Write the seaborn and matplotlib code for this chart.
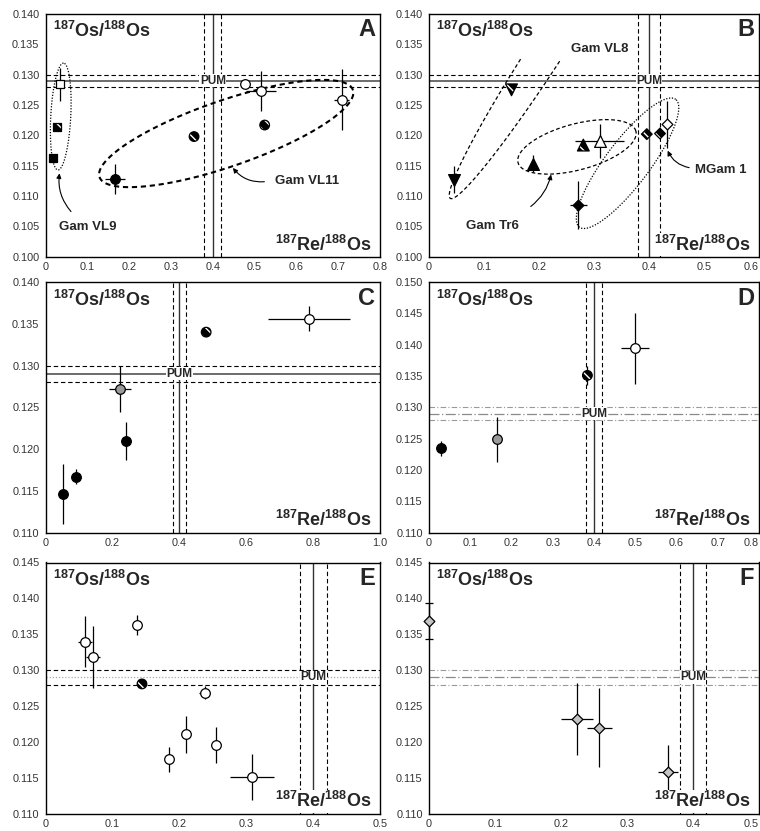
import numpy as np
import pandas as pd
import matplotlib
matplotlib.use("Agg")
import matplotlib.pyplot as plt
from matplotlib.ticker import MultipleLocator, FuncFormatter
import seaborn as sns

# ---- data ----
# A
a_x = [0.034, 0.028, 0.017, 0.166, 0.355, 0.477, 0.515, 0.524, 0.709]
a_y = [0.1284, 0.1214, 0.1163, 0.1128, 0.1198, 0.1285, 0.1273, 0.1217, 0.1259]
a_xerr = [0, 0, 0, 0.023, 0, 0, 0.035, 0, 0.018]
a_yerr = [0.0027, 0, 0, 0.0024, 0, 0, 0.0033, 0, 0.0051]
a_fill = ["open", "hatch", "black", "black", "hatch", "open", "open", "hatch", "open"]
a_marker = ["s", "s", "s", "o", "o", "o", "o", "o", "o"]
# B
b_x = [0.0455, 0.150, 0.1885, 0.2806, 0.310, 0.2715, 0.396, 0.420, 0.433]
b_y = [0.1127, 0.1275, 0.1153, 0.1184, 0.1190, 0.1085, 0.1202, 0.1203, 0.1218]
b_xerr = [0, 0, 0, 0, 0.045, 0.015, 0, 0, 0]
b_yerr = [0.0022, 0, 0.0014, 0, 0.0028, 0.004, 0, 0, 0.0039]
b_fill = ["black", "hatch", "black", "hatch", "open", "black", "hatch", "hatch", "open"]
b_marker = ["v", "v", "^", "^", "^", "D", "D", "D", "D"]
# C
c_x = [0.051, 0.091, 0.240, 0.222, 0.480, 0.788]
c_y = [0.1146, 0.1167, 0.1210, 0.1272, 0.1340, 0.1356]
c_xerr = [0.012, 0, 0.015, 0.034, 0, 0.122]
c_yerr = [0.0036, 0.0009, 0.0023, 0.0028, 0, 0.0015]
c_fill = ["black", "black", "black", "gray", "hatch", "open"]
# D
d_x = [0.028, 0.164, 0.384, 0.499]
d_y = [0.1235, 0.1249, 0.1351, 0.1394]
d_xerr = [0, 0, 0.004, 0.0335]
d_yerr = [0.0012, 0.0036, 0.0015, 0.0056]
d_fill = ["black", "gray", "hatch", "open"]
# E
e_x = [0.059, 0.071, 0.136, 0.144, 0.238, 0.185, 0.210, 0.254, 0.308]
e_y = [0.1340, 0.1319, 0.1363, 0.1281, 0.1269, 0.1176, 0.1211, 0.1196, 0.1152]
e_xerr = [0.010, 0.0105, 0, 0, 0.008, 0, 0, 0, 0.033]
e_yerr = [0.0035, 0.0043, 0.0014, 0, 0.0009, 0.0017, 0.0026, 0.0025, 0.0032]
e_fill = ["open", "open", "open", "hatch", "open", "open", "open", "open", "open"]
# F
f_x = [0.0, 0.2247, 0.258, 0.3626]
f_y = [0.1369, 0.1232, 0.1220, 0.1159]
f_xerr = [0, 0.024, 0.019, 0.015]
f_yerr = [0.0025, 0.005, 0.0055, 0.0037]
f_fill = ["lgray"] * 4

# PUM reference values
pum_os = [0.128, 0.129, 0.130]
pum_re = [0.38, 0.40, 0.42]

sns.set_style("white")
plt.rcParams["font.family"] = ["Liberation Sans", "DejaVu Sans"]
plt.rcParams["mathtext.default"] = "regular"
plt.rcParams["hatch.linewidth"] = 1.0

fig = plt.figure(figsize=(7.6, 8.31), dpi=100)
W, H = 760, 831


def rect(l, r, t, b):
    return [l / W, 1 - b / H, (r - l) / W, (b - t) / H]


axA = fig.add_axes(rect(45.7, 380, 14, 256.7))
axB = fig.add_axes(rect(429, 759, 14, 256.7))
axC = fig.add_axes(rect(45.7, 380, 282, 532.7))
axD = fig.add_axes(rect(429, 759, 282, 532.7))
axE = fig.add_axes(rect(45.7, 380, 562.5, 814))
axF = fig.add_axes(rect(429, 759, 562.5, 814))


def setup(ax, xmax, xstep, ymin, ymax, letter, right_col=False):
    ax.set_xlim(0, xmax)
    ax.set_ylim(ymin, ymax)
    xt = np.round(np.arange(0, xmax + xstep / 2, xstep), 3)
    ax.set_xticks(xt)
    labs = ax.set_xticklabels(["0" if v == 0 else f"{v:.1f}" for v in xt])
    if right_col:
        # last x label sits at the page edge, keep it inside
        labs[-1].set_horizontalalignment("right")
    ax.yaxis.set_major_locator(MultipleLocator(0.005))
    ax.yaxis.set_major_formatter(FuncFormatter(lambda v, p: f"{v:.3f}"))
    ax.tick_params(length=0, labelsize=7.8, labelcolor="#333333")
    ax.tick_params(axis="y", pad=4.5)
    ax.tick_params(axis="x", pad=3.5)
    ax.set_xlabel("")
    ax.set_ylabel("")
    for s in ax.spines.values():
        s.set_color("black")
        s.set_linewidth(1.0)
    ax.text(0.022, 0.93, r"$^{187}$Os/$^{188}$Os", transform=ax.transAxes,
            fontsize=13, fontweight="bold", ha="left", va="center", zorder=8)
    ax.text(0.975, 0.05, r"$^{187}$Re/$^{188}$Os", transform=ax.transAxes,
            fontsize=13, fontweight="bold", ha="right", va="center", zorder=8,
            bbox=dict(facecolor="white", edgecolor="none", pad=1.0))
    ax.text(0.985, 0.935, letter, transform=ax.transAxes, fontsize=17,
            fontweight="bold", ha="right", va="center", zorder=8)


def pum(ax, hstyle):
    dash = (4, 2.5)
    if hstyle == "solid":
        ax.axhline(pum_os[1], color="#444444", lw=1.1, zorder=1)
        for v in (pum_os[0], pum_os[2]):
            ax.axhline(v, color="black", lw=0.8, dashes=dash, zorder=1)
    elif hstyle == "gray":
        ax.axhline(pum_os[1], color="#8a8a8a", lw=0.9, dashes=(8, 2, 1, 2), zorder=1)
        for v in (pum_os[0], pum_os[2]):
            ax.axhline(v, color="#9a9a9a", lw=0.8, dashes=(5, 2, 1, 2), zorder=1)
    else:
        ax.axhline(pum_os[1], color="#aaaaaa", lw=0.9, dashes=(1, 1.5), zorder=1)
        for v in (pum_os[0], pum_os[2]):
            ax.axhline(v, color="black", lw=0.8, dashes=dash, zorder=1)
    ax.axvline(pum_re[1], color="#333333", lw=1.0, zorder=1)
    for v in (pum_re[0], pum_re[2]):
        ax.axvline(v, color="black", lw=0.8, dashes=dash, zorder=1)
    ax.text(pum_re[1], pum_os[1], "PUM", fontsize=8.5, fontweight="bold",
            ha="center", va="center", zorder=7,
            bbox=dict(facecolor="white", edgecolor="none", pad=0.3))


SIZES = {"o": 48, "s": 32, "v": 72, "^": 72, "D": 30}
FACE = {"open": "white", "black": "black", "gray": "#9a9a9a", "lgray": "#c4c4c4"}


def points(ax, xs, ys, xerr, yerr, fills, markers, caps_first=False):
    df = pd.DataFrame({"x": xs, "y": ys, "xerr": xerr, "yerr": yerr,
                       "fill": fills, "marker": markers})
    for i, r in df.iterrows():
        cs = 3 if (caps_first and i == 0) else 0
        ax.errorbar(r.x, r.y, xerr=r.xerr if r.xerr else None,
                    yerr=r.yerr if r.yerr else None, fmt="none",
                    ecolor="black", elinewidth=0.9, capsize=cs, capthick=0.9,
                    zorder=3, clip_on=False)
    for (fill, m), sub in df.groupby(["fill", "marker"]):
        s = SIZES[m]
        if fill == "hatch":
            sns.scatterplot(data=sub, x="x", y="y", marker=m, s=s, color="black",
                            edgecolor="white", linewidth=0, hatch="\\\\\\",
                            ax=ax, zorder=4, legend=False, clip_on=False)
            ax.scatter(sub.x, sub.y, marker=m, s=s, facecolors="none",
                       edgecolors="black", linewidths=0.9, zorder=5, clip_on=False)
        else:
            sns.scatterplot(data=sub, x="x", y="y", marker=m, s=s,
                            color=FACE[fill], edgecolor="black", linewidth=0.9,
                            ax=ax, zorder=4, legend=False, clip_on=False)
    ax.set_xlabel("")
    ax.set_ylabel("")


def loop(ax, cx, cy, a, b, ang, ymax=None, **kw):
    # outline drawn in pixel space so the shape is a true ellipse on screen
    t = np.linspace(0, 2 * np.pi, 400)
    c = ax.transData.transform((cx, cy))
    th = np.radians(ang)
    px = c[0] + a * np.cos(t) * np.cos(th) - b * np.sin(t) * np.sin(th)
    py = c[1] + a * np.cos(t) * np.sin(th) + b * np.sin(t) * np.cos(th)
    pts = ax.transData.inverted().transform(np.column_stack([px, py]))
    if ymax is not None:
        pts = pts[pts[:, 1] <= ymax]
    ax.plot(pts[:, 0], pts[:, 1], color="black", zorder=2, **kw)


def label(ax, text, txy, start, tip, rad):
    ax.text(txy[0], txy[1], text, fontsize=9.5, fontweight="bold",
            ha="left", va="center", zorder=7)
    if start is not None:
        ax.annotate("", xy=tip, xytext=start, zorder=7,
                    arrowprops=dict(arrowstyle="-|>", color="black", lw=0.8,
                                    mutation_scale=7,
                                    connectionstyle=f"arc3,rad={rad}"))


# ---- A ----
setup(axA, 0.8, 0.1, 0.100, 0.140, "A")
pum(axA, "solid")
points(axA, a_x, a_y, a_xerr, a_yerr, a_fill, a_marker)
loop(axA, 0.036, 0.1231, 53.5, 10, 87, lw=0.9, dashes=(1, 1.3))
loop(axA, 0.432, 0.1203, 134, 33, 19, lw=1.5, dashes=(2.5, 1.8))
label(axA, "Gam VL9", (0.033, 0.1049), (0.065, 0.1071), (0.034, 0.1142), -0.25)
label(axA, "Gam VL11", (0.549, 0.1124), (0.530, 0.1124), (0.444, 0.1150), -0.3)

# ---- B ----
setup(axB, 0.6, 0.1, 0.100, 0.140, "B", right_col=True)
pum(axB, "solid")
points(axB, b_x, b_y, b_xerr, b_yerr, b_fill, b_marker)
loop(axB, 0.212, 0.1338, 175, 17, 57, ymax=0.1327, lw=0.9, dashes=(3, 2))
loop(axB, 0.269, 0.1181, 61, 23, 15, lw=0.9, dashes=(3, 2))
loop(axB, 0.361, 0.1154, 80, 22, 53, lw=0.9, dashes=(1, 1.3))
label(axB, "Gam VL8", (0.259, 0.1343), None, None, 0)
label(axB, "Gam Tr6", (0.067, 0.1051), (0.181, 0.1080), (0.223, 0.1140), 0.2)
label(axB, "MGam 1", (0.484, 0.1143), (0.478, 0.1146), (0.432, 0.1179), -0.3)

# ---- C ----
setup(axC, 1.0, 0.2, 0.110, 0.140, "C")
pum(axC, "solid")
points(axC, c_x, c_y, c_xerr, c_yerr, c_fill, ["o"] * len(c_x))

# ---- D ----
setup(axD, 0.8, 0.1, 0.110, 0.150, "D", right_col=True)
pum(axD, "gray")
points(axD, d_x, d_y, d_xerr, d_yerr, d_fill, ["o"] * len(d_x))

# ---- E ----
setup(axE, 0.5, 0.1, 0.110, 0.145, "E")
pum(axE, "dotted")
points(axE, e_x, e_y, e_xerr, e_yerr, e_fill, ["o"] * len(e_x))

# ---- F ----
setup(axF, 0.5, 0.1, 0.110, 0.145, "F", right_col=True)
pum(axF, "gray")
points(axF, f_x, f_y, f_xerr, f_yerr, f_fill, ["D"] * len(f_x), caps_first=True)

fig.savefig("out.png", dpi=100)
